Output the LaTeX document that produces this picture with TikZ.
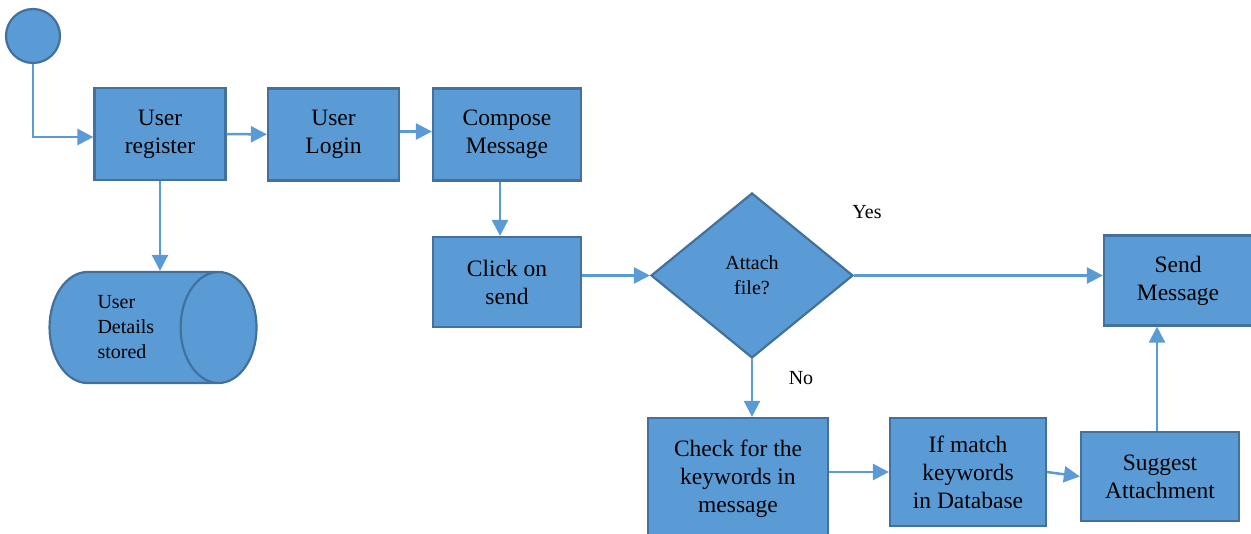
\documentclass[tikz,border=0pt]{standalone}
\usepackage{fontspec}
\setmainfont{Liberation Serif}
\usetikzlibrary{arrows.meta,shapes.geometric}
\definecolor{boxfill}{HTML}{5B9BD5}
\definecolor{boxline}{HTML}{41719C}
\definecolor{flowline}{HTML}{5B9BD5}
\newcommand{\bigtext}{\fontsize{23.5}{28}\selectfont}
\newcommand{\smalltext}{\fontsize{20}{25}\selectfont}
\begin{document}
\begin{tikzpicture}[x=1pt,y=-1pt,
	box/.style={draw=boxline, fill=boxfill, line width=2.2pt, inner sep=0pt, align=center, font=\bigtext},
	flow/.style={draw=flowline, line width=2.5pt, -{Triangle[length=16pt,width=16pt]}},
	lbl/.style={font=\smalltext}]
	\useasboundingbox (0,0) rectangle (1251,534);
	\clip (0,0) rectangle (1251,534);
	% start and registration
	\node[circle, draw=boxline, fill=boxfill, line width=2.2pt, minimum size=54pt, inner sep=0pt] (start) at (33,36) {};
	\node[box, minimum width=131pt, minimum height=92pt] (reg) at (160,134) {User\\register};
	\node[box, minimum width=131pt, minimum height=92pt] (login) at (333.5,134.5) {User\\Login};
	\node[box, minimum width=148pt, minimum height=92pt] (compose) at (507,134.5) {Compose\\Message};
	\node[cylinder, draw=boxline, fill=boxfill, line width=2.2pt, minimum width=111pt, minimum height=207pt, aspect=1.2, align=left, text width=72pt, font=\smalltext, inner sep=0pt] (store) at (133.5,327.5) {User\\Details\\stored};
	% sending
	\node[box, minimum width=148pt, minimum height=90pt] (click) at (507,282) {Click on\\send};
	\node[diamond, draw=boxline, fill=boxfill, line width=2.2pt, minimum width=202pt, minimum height=165pt, aspect=1.22, inner sep=0pt, align=center, font=\smalltext] (attach) at (752,275.5) {Attach\\file?};
	\node[box, minimum width=148pt, minimum height=90pt] (send) at (1178,280.5) {Send\\Message};
	\node[box, minimum width=180pt, minimum height=122pt] (check) at (738,479) {Check for the\\keywords in\\message};
	\node[box, minimum width=156pt, minimum height=108pt] (match) at (968,472) {If match\\keywords\\in Database};
	\node[box, minimum width=158pt, minimum height=89pt] (suggest) at (1160,476.5) {Suggest\\Attachment};
	\node[lbl] (yes) at (867,212) {Yes};
	\node[lbl] (no) at (801,378) {No};
	% connectors
	\draw[flow] (start.south) |- ([yshift=-3pt]reg.west);
	\draw[flow] (reg) -- (login);
	\draw[flow] ([yshift=3pt]login.east) -- ([yshift=3pt]compose.west);
	\draw[flow] (reg.south) -- (reg.south |- store.north);
	\draw[flow] ([xshift=-7pt]compose.south) -- ([xshift=-7pt]click.north);
	\draw[flow] (click.east |- attach.west) -- (attach.west);
	\draw[flow] (attach.east) -- (attach.east -| send.west);
	\draw[flow] (attach.south) -- (attach.south |- check.north);
	\draw[flow] (check.east |- match.west) -- (match.west);
	\draw[flow] (match.east) -- (suggest.west);
	\draw[flow] ([xshift=-3pt]suggest.north) -- ([xshift=-3pt]suggest.north |- send.south);
\end{tikzpicture}
\end{document}
